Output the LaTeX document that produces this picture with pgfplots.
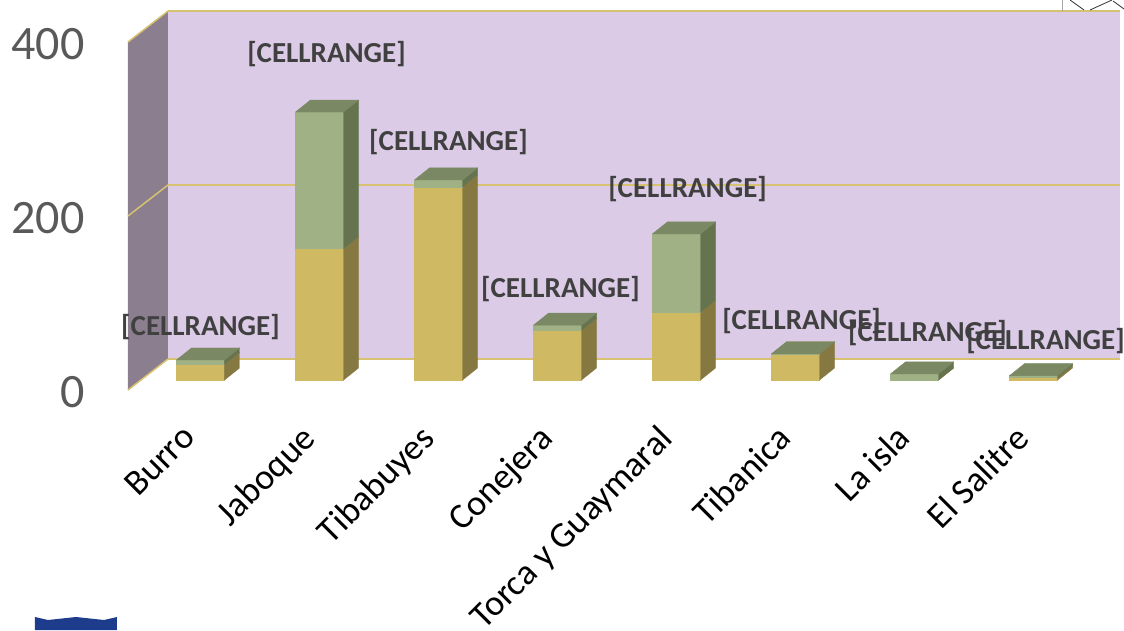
\documentclass[border=0pt]{standalone}
\usepackage{pgfplots}
\pgfplotsset{compat=1.18}
\usepackage{pgfplotstable}
\usepackage{fontspec}
\setmainfont{Carlito}
\definecolor{wallback}{RGB}{219,203,230}
\definecolor{wallside}{RGB}{139,127,143}
\definecolor{gridgold}{RGB}{214,194,112}
\definecolor{yfront}{RGB}{207,186,99}
\definecolor{yside}{RGB}{133,120,64}
\definecolor{ytop}{RGB}{168,154,85}
\definecolor{gfront}{RGB}{159,177,133}
\definecolor{gside}{RGB}{102,115,79}
\definecolor{gtop}{RGB}{122,137,100}
\definecolor{ticklab}{RGB}{89,89,89}
\definecolor{datalab}{RGB}{64,64,64}
\definecolor{logoblue}{RGB}{30,60,140}

\pgfdeclareplotmark{empty3d}{}
\newdimen\bhh

\pgfplotstableread{
x base h
0 0 18
1 0 151
2 0 222
3 0 57
4 0 78
5 0 30
6 0 0
7 0 3
}\yellowdata
\pgfplotstableread{
x base h
0 18 5
1 151 157
2 222 8
3 57 6
4 78 90
5 30 0
6 0 7
7 3 2
}\greendata

\pgfplotsset{
  box3d/.style n args={3}{
    only marks, mark=empty3d, scatter, point meta=y,
    visualization depends on={\thisrow{h}\as\hval},
    scatter/@pre marker code/.code={%
      \pgfmathsetlength{\bhh}{\hval*0.87pt}%
      \fill[#1] (-51pt,-21pt) rectangle (-3pt,\bhh-21pt);
      \fill[#2] (-3pt,-21pt) -- (12pt,-9pt) -- (12pt,\bhh-9pt) -- (-3pt,\bhh-21pt) -- cycle;
      \fill[#3] (-51pt,\bhh-21pt) -- (-3pt,\bhh-21pt) -- (12pt,\bhh-9pt) -- (-36pt,\bhh-9pt) -- cycle;
    },
    scatter/@post marker code/.code={},
  }
}

\begin{document}
\begin{tikzpicture}
\path[use as bounding box] (-168pt,-271pt) rectangle (956pt,359pt);
\begin{axis}[
  at={(0pt,0pt)}, anchor=south west,
  x=119pt, y=0.87pt,
  xmin=-0.5, xmax=7.5, ymin=0, ymax=400,
  clip=false,
  axis line style={draw=none},
  major tick length=0pt,
  ytick={0,200,400},
  xtick={0,...,7},
  xticklabels={Burro,Jaboque,Tibabuyes,Conejera,Torca y Guaymaral,Tibanica,La isla,El Salitre},
  ymajorgrids,
  major grid style={gridgold, line width=1.5pt},
  axis background/.style={fill=wallback},
  /pgf/number format/assume math mode=true,
  yticklabel style={font=\fontsize{48}{48}\selectfont, text=ticklab, xshift=-80pt, yshift=-33pt},
  xticklabel style={font=\fontsize{36}{36}\selectfont, text=black, xshift=-47pt, yshift=-59pt, rotate=45, anchor=north east},
]
\fill[wallside] (axis cs:-0.5,0) -- ([shift={(-40pt,-31pt)}]axis cs:-0.5,0) -- ([shift={(-40pt,-31pt)}]axis cs:-0.5,400) -- (axis cs:-0.5,400) -- cycle;
\draw[gridgold, line width=1.5pt] (axis cs:-0.5,0) -- ([shift={(-40pt,-31pt)}]axis cs:-0.5,0);
\draw[gridgold, line width=1.5pt] (axis cs:-0.5,200) -- ([shift={(-40pt,-31pt)}]axis cs:-0.5,200);
\draw[gridgold, line width=1.5pt] (axis cs:-0.5,400) -- ([shift={(-40pt,-31pt)}]axis cs:-0.5,400);

\addplot[box3d={yfront}{yside}{ytop}] table[x=x, y=base] {\yellowdata};
\addplot[box3d={gfront}{gside}{gtop}] table[x=x, y=base] {\greendata};

\begin{scope}[every node/.style={font=\bfseries\fontsize{29}{29}\selectfont, text=datalab, inner sep=0pt}]
\node at (axis cs:-0.227,36.8) {[CELLRANGE]};
\node at (axis cs:0.832,350.6) {[CELLRANGE]};
\node at (axis cs:1.857,249.4) {[CELLRANGE]};
\node at (axis cs:2.798,80.5) {[CELLRANGE]};
\node at (axis cs:3.866,195.4) {[CELLRANGE]};
\node at (axis cs:4.824,43.7) {[CELLRANGE]};
\node at (axis cs:5.882,29.9) {[CELLRANGE]};
\node at (axis cs:6.874,20.7) {[CELLRANGE]};
\end{scope}
\end{axis}
% logo fragment at bottom-left and window-frame fragment at top-right (outside the chart)
\fill[logoblue] (-133pt,-258pt) -- (-120pt,-261pt) -- (-92pt,-258pt) -- (-64pt,-261pt) -- (-51pt,-258pt) -- (-51pt,-271pt) -- (-133pt,-271pt) -- cycle;
\draw[gray!70, line width=0.6pt] (894pt,359pt) -- (894pt,348pt);
\draw[black!80, line width=0.8pt] (902pt,359pt) -- (916pt,349pt);
\draw[black!80, line width=0.8pt] (922pt,349pt) -- (944pt,359pt);
\draw[black!80, line width=0.8pt] (945pt,358pt) -- (956pt,350pt);
\end{tikzpicture}
\end{document}
